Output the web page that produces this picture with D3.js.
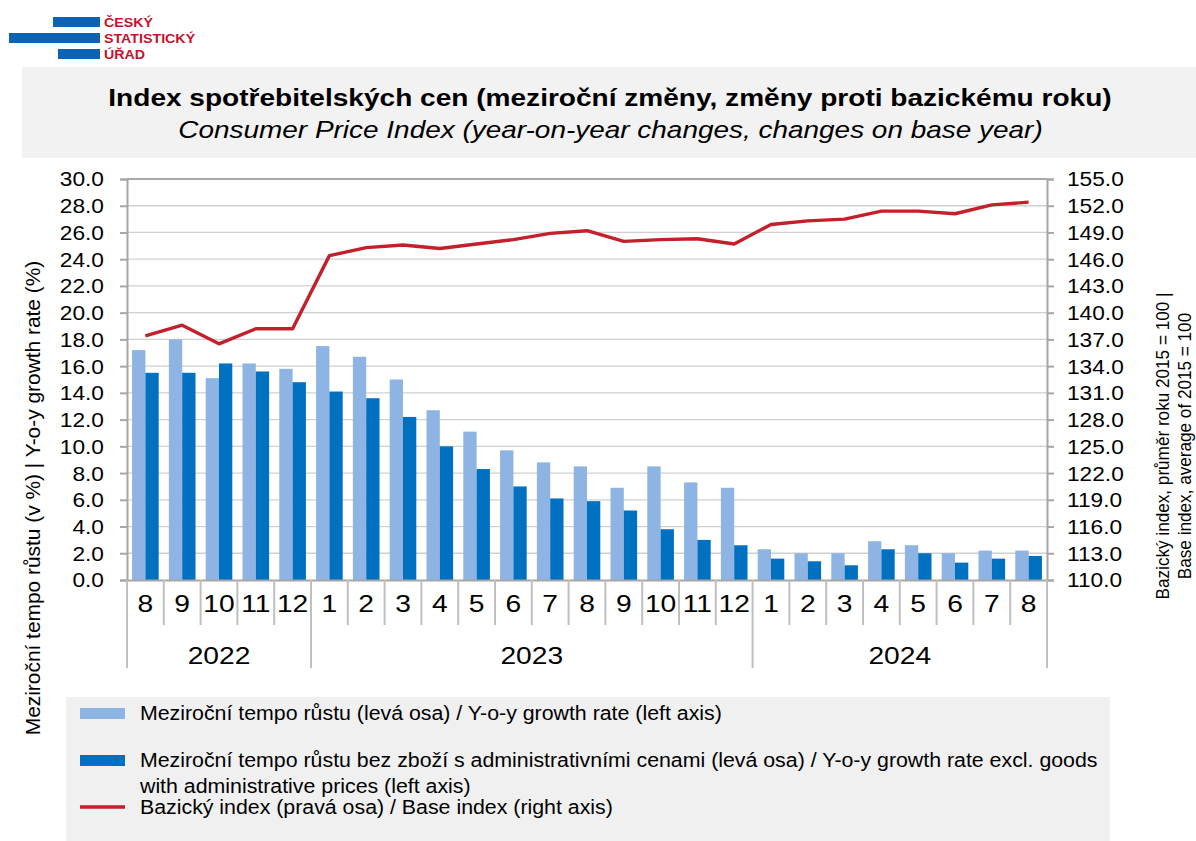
<!DOCTYPE html>
<html>
<head>
<meta charset="utf-8">
<script src="https://cdn.jsdelivr.net/npm/d3@7"></script>
<style>
  html, body { margin: 0; padding: 0; background: #ffffff; }
  svg { display: block; font-family: "Liberation Sans", Arial, sans-serif; }
</style>
</head>
<body>
<svg id="chart" width="1196" height="841"></svg>
<script>
// ---------------- data ----------------
const months = ["8","9","10","11","12","1","2","3","4","5","6","7","8","9","10","11","12","1","2","3","4","5","6","7","8"];
const years = ["2022","2023","2024"];
const yearOfPeriod = ["2022","2022","2022","2022","2022",
  "2023","2023","2023","2023","2023","2023","2023","2023","2023","2023","2023","2023",
  "2024","2024","2024","2024","2024","2024","2024","2024"];
const yoy = [17.2,18.0,15.1,16.2,15.8,17.5,16.7,15.0,12.7,11.1,9.7,8.8,8.5,6.9,8.5,7.3,6.9,2.3,2.0,2.0,2.9,2.6,2.0,2.2,2.2];
const yoyExcl = [15.5,15.5,16.2,15.6,14.8,14.1,13.6,12.2,10.0,8.3,7.0,6.1,5.9,5.2,3.8,3.0,2.6,1.6,1.4,1.1,2.3,2.0,1.3,1.6,1.8];
const baseIndex = [137.4,138.6,136.5,138.2,138.2,146.4,147.3,147.6,147.2,147.7,148.2,148.9,149.2,148.0,148.2,148.3,147.7,149.9,150.3,150.5,151.4,151.4,151.1,152.1,152.4];
const leftTicks = [0,2,4,6,8,10,12,14,16,18,20,22,24,26,28,30];
const rightTicks = [110,113,116,119,122,125,128,131,134,137,140,143,146,149,152,155];
const seriesNames = [
  ["Meziroční tempo růstu (levá osa) / Y-o-y growth rate (left axis)"],
  ["Meziroční tempo růstu bez zboží s administrativními cenami (levá osa) / Y-o-y growth rate excl. goods", "with administrative prices (left axis)"],
  ["Bazický index (pravá osa) / Base index (right axis)"]
];
const titleCz = "Index spotřebitelských cen (meziroční změny, změny proti bazickému roku)";
const titleEn = "Consumer Price Index (year-on-year changes, changes on base year)";
const yTitleLeft = "Meziroční tempo růstu (v %) | Y-o-y growth rate (%)";
const yTitleRight = ["Bazický index, průměr roku 2015 = 100 |", "Base index, average of 2015 = 100"];
const logoLines = ["ČESKÝ", "STATISTICKÝ", "ÚŘAD"];

// ---------------- styles ----------------
const C = {
  light: "#8DB4E2", dark: "#0070C0", line: "#C3202B",
  grid: "#d0d0d0", axis: "#a6a6a6", box: "#f2f2f2", legendBox: "#f0f0f0",
  logoBlue: "#0b63b2", logoRed: "#c8102e"
};
const P = { left: 127, right: 1047, top: 179, bottom: 580 };

const svg = d3.select("#chart");

// stretch helper: horizontal scale about the text's own x anchor
function stretch(sel, sx) {
  sel.each(function () {
    const t = d3.select(this);
    const x = +t.attr("x") || 0;
    t.attr("transform", `translate(${x},0) scale(${sx},1) translate(${-x},0)`);
  });
}

// ---------------- logo ----------------
const logo = svg.append("g");
[[53, 17, 47], [9, 33, 91], [58, 49, 42]].forEach(r => {
  logo.append("rect").attr("x", r[0]).attr("y", r[1]).attr("width", r[2]).attr("height", 10).attr("fill", C.logoBlue);
});
logo.selectAll("text.logo").data(logoLines).join("text")
  .attr("class", "logo")
  .attr("x", 104).attr("y", (d, i) => 27.5 + i * 16)
  .attr("font-size", 13.3).attr("font-weight", "bold").attr("fill", C.logoRed)
  .text(d => d)
  .call(stretch, 1.07);

// ---------------- title box ----------------
svg.append("rect").attr("x", 22).attr("y", 67).attr("width", 1174).attr("height", 91).attr("fill", C.box);
svg.append("text").attr("x", 610).attr("y", 106).attr("text-anchor", "middle")
  .attr("font-size", 24.5).attr("font-weight", "bold").attr("fill", "#000").text(titleCz)
  .call(function (s) { const w = s.node().getComputedTextLength(); stretch(s, 1004 / w); });
svg.append("text").attr("x", 610.5).attr("y", 138).attr("text-anchor", "middle")
  .attr("font-size", 24.5).attr("font-style", "italic").attr("fill", "#000").text(titleEn)
  .call(function (s) { const w = s.node().getComputedTextLength(); stretch(s, 865 / w); });

// ---------------- scales ----------------
const x = d3.scaleBand().domain(d3.range(months.length)).range([P.left, P.right]).paddingInner(0).paddingOuter(0);
const x1 = d3.scaleBand().domain([0, 1]).range([0, x.bandwidth()]).paddingInner(0).paddingOuter(0.383);
const yL = d3.scaleLinear().domain([0, 30]).range([P.bottom, P.top]);
const yR = d3.scaleLinear().domain([110, 155]).range([P.bottom, P.top]);

// ---------------- gridlines ----------------
svg.append("g").selectAll("line").data(leftTicks.filter(d => d > 0 && d < 30)).join("line")
  .attr("x1", P.left).attr("x2", P.right)
  .attr("y1", d => yL(d)).attr("y2", d => yL(d))
  .attr("stroke", C.grid).attr("stroke-width", 1.3);
svg.append("line").attr("x1", P.left).attr("x2", P.right).attr("y1", P.top).attr("y2", P.top)
  .attr("stroke", "#8c8c8c").attr("stroke-width", 1.6);

// ---------------- bars ----------------
const barG = svg.append("g");
barG.selectAll("rect.l").data(yoy).join("rect").attr("class", "l")
  .attr("x", (d, i) => x(i) + x1(0)).attr("width", x1.bandwidth())
  .attr("y", d => yL(d)).attr("height", d => yL(0) - yL(d)).attr("fill", C.light);
barG.selectAll("rect.d").data(yoyExcl).join("rect").attr("class", "d")
  .attr("x", (d, i) => x(i) + x1(1)).attr("width", x1.bandwidth())
  .attr("y", d => yL(d)).attr("height", d => yL(0) - yL(d)).attr("fill", C.dark);

// ---------------- line ----------------
const lineGen = d3.line().x((d, i) => x(i) + x.bandwidth() / 2).y(d => yR(d));
svg.append("path").datum(baseIndex).attr("d", lineGen)
  .attr("fill", "none").attr("stroke", C.line).attr("stroke-width", 3.4).attr("stroke-linejoin", "round");

// ---------------- axes ----------------
const fmt = d3.format(".1f");
const axL = svg.append("g").attr("transform", `translate(${P.left},0)`)
  .call(d3.axisLeft(yL).tickValues(leftTicks).tickFormat(fmt).tickSize(7).tickPadding(16));
const axR = svg.append("g").attr("transform", `translate(${P.right},0)`)
  .call(d3.axisRight(yR).tickValues(rightTicks).tickFormat(fmt).tickSize(7).tickPadding(13));
[axL, axR].forEach(a => {
  a.select(".domain").attr("stroke", C.axis).attr("stroke-width", 2);
  a.selectAll(".tick line").attr("stroke", C.axis).attr("stroke-width", 2);
  a.selectAll(".tick text").attr("font-size", 19.4).attr("fill", "#000")
    .attr("font-family", "'Liberation Sans', Arial, sans-serif").attr("dy", "0.36em");
});
stretch(axL.selectAll(".tick text"), 1.17);
stretch(axR.selectAll(".tick text"), 1.17);

// bottom axis: month labels
const axB = svg.append("g").attr("transform", `translate(0,${P.bottom})`)
  .call(d3.axisBottom(x).tickFormat(i => months[i]).tickSize(0).tickPadding(15));
axB.select(".domain").attr("stroke", C.axis).attr("stroke-width", 2);
axB.selectAll(".tick text").attr("font-size", 23.5).attr("fill", "#000")
  .attr("font-family", "'Liberation Sans', Arial, sans-serif").attr("dy", "0.71em");
stretch(axB.selectAll(".tick text"), 1.2);

// category separators
const bounds = d3.range(months.length + 1);
const isYearBound = b => b === 0 || b === months.length || yearOfPeriod[b] !== yearOfPeriod[b - 1];
svg.append("g").selectAll("line").data(bounds).join("line")
  .attr("x1", b => b < months.length ? x(b) : P.right).attr("x2", b => b < months.length ? x(b) : P.right)
  .attr("y1", P.bottom).attr("y2", b => isYearBound(b) ? 668 : 625)
  .attr("stroke", "#bfbfbf").attr("stroke-width", 2);

// year labels
const yearCenter = yr => {
  const idx = d3.range(months.length).filter(i => yearOfPeriod[i] === yr);
  return (x(idx[0]) + x(idx[idx.length - 1]) + x.bandwidth()) / 2;
};
svg.append("g").selectAll("text").data(years).join("text")
  .attr("x", d => yearCenter(d)).attr("y", 664).attr("text-anchor", "middle")
  .attr("font-size", 23.5).attr("fill", "#000").text(d => d)
  .call(stretch, 1.2);

// ---------------- axis titles ----------------
svg.append("text")
  .attr("transform", `translate(40,498) rotate(-90) scale(1.1,1.05)`)
  .attr("text-anchor", "middle").attr("font-size", 19).attr("fill", "#000").text(yTitleLeft);
svg.append("g").selectAll("text").data(yTitleRight).join("text")
  .attr("transform", (d, i) => `translate(${1169 + i * 22},446) rotate(-90) scale(0.98,1.1)`)
  .attr("text-anchor", "middle").attr("font-size", 17.5).attr("fill", "#000").text(d => d);

// ---------------- legend ----------------
svg.append("rect").attr("x", 66).attr("y", 697).attr("width", 1044).attr("height", 144).attr("fill", C.legendBox);
const legY = [713, 760, 807];
const lg = svg.append("g");
lg.append("rect").attr("x", 80).attr("y", legY[0] - 5).attr("width", 45).attr("height", 11).attr("fill", C.light);
lg.append("rect").attr("x", 80).attr("y", legY[1] - 5).attr("width", 45).attr("height", 11).attr("fill", C.dark);
lg.append("line").attr("x1", 80).attr("x2", 125).attr("y1", legY[2]).attr("y2", legY[2])
  .attr("stroke", C.line).attr("stroke-width", 3.4);
seriesNames.forEach((lines, k) => {
  lines.forEach((t, j) => {
    lg.append("text").attr("x", 140).attr("y", legY[k] + 7 + j * 26)
      .attr("font-size", 19.4).attr("fill", "#000").text(t)
      .call(stretch, 1.1);
  });
});
</script>
</body>
</html>
